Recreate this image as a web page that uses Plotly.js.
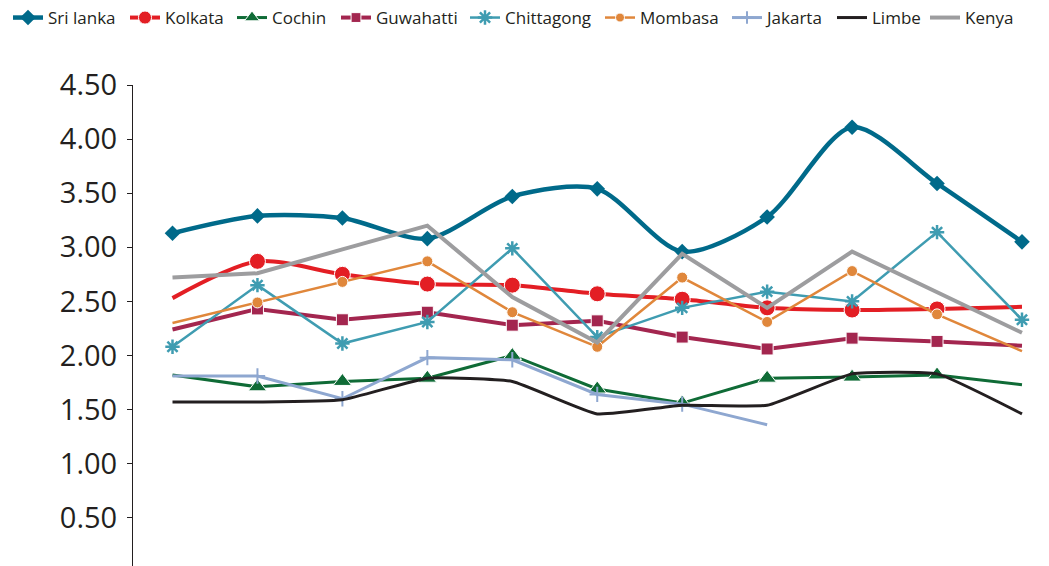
<!DOCTYPE html>
<html>
<head>
<meta charset="utf-8">
<script src="https://cdn.plot.ly/plotly-3.0.1.min.js"></script>
<style>
  html, body { margin: 0; padding: 0; background: #ffffff; overflow: hidden; }
  #chart { width: 1049px; height: 566px; }
</style>
</head>
<body>
<div id="chart"></div>
<script>
// ---- data ----
var periods = [0, 1, 2, 3, 4, 5, 6, 7, 8, 9, 10];

var sriLanka   = [3.13, 3.29, 3.27, 3.08, 3.47, 3.54, 2.96, 3.28, 4.11, 3.59, 3.05];
var kolkata    = [2.53, 2.87, 2.75, 2.66, 2.65, 2.57, 2.52, 2.44, 2.42, 2.43, 2.45];
var cochin     = [1.82, 1.71, 1.76, 1.79, 2.00, 1.69, 1.56, 1.79, 1.80, 1.82, 1.73];
var guwahatti  = [2.24, 2.43, 2.33, 2.40, 2.28, 2.32, 2.17, 2.06, 2.16, 2.13, 2.09];
var chittagong = [2.08, 2.65, 2.11, 2.31, 2.99, 2.17, 2.44, 2.59, 2.50, 3.14, 2.33];
var mombasa    = [2.30, 2.49, 2.68, 2.87, 2.40, 2.08, 2.72, 2.31, 2.78, 2.38, 2.04];
var jakarta    = [1.81, 1.81, 1.60, 1.98, 1.96, 1.64, 1.55, 1.36, null, null, null];
var limbe      = [1.57, 1.57, 1.59, 1.79, 1.76, 1.46, 1.54, 1.54, 1.83, 1.83, 1.46];
var kenya      = [2.72, 2.76, 2.98, 3.20, 2.54, 2.12, 2.94, 2.44, 2.96, 2.58, 2.21];

var yTickVals = [0.5, 1.0, 1.5, 2.0, 2.5, 3.0, 3.5, 4.0, 4.5];
var yTickText = ['0.50', '1.00', '1.50', '2.00', '2.50', '3.00', '3.50', '4.00', '4.50'];

// ---- helpers (style only) ----
function innerSizes(vals, s) {
  // markers on every point except the first and the last drawn point
  var last = -1;
  vals.forEach(function (v, i) { if (v !== null) last = i; });
  return vals.map(function (v, i) { return (i === 0 || i === last) ? 0 : s; });
}

var legendIds = ['legend', 'legend2', 'legend3', 'legend4', 'legend5', 'legend6', 'legend7', 'legend8', 'legend9'];
var legendLeftPx = [16, 133, 240, 344, 473, 608, 735, 840, 933];
var traceCount = 0;

function series(name, y, color, width, shape, smoothing, marker) {
  var t = {
    type: 'scatter', mode: marker ? 'lines+markers' : 'lines',
    name: name, x: periods, y: y,
    line: { color: color, width: width, shape: shape || 'linear', smoothing: smoothing || 1 },
    connectgaps: false,
    legend: legendIds[traceCount++]
  };
  if (marker) { marker.opacity = 1; t.marker = marker; }
  return t;
}

var data = [
  series('Sri lanka', sriLanka, '#006a8a', 4.5, 'spline', 0.8,
         { symbol: 'diamond', size: 12, color: '#006a8a' }),
  series('Kolkata', kolkata, '#e31e24', 4, 'spline', 0.8,
         { symbol: 'circle', size: innerSizes(kolkata, 16), color: '#e31e24' }),
  series('Cochin', cochin, '#0f6b36', 3, 'linear', 0,
         { symbol: 'triangle-up', size: innerSizes(cochin, 16), color: '#0f6b36' }),
  series('Guwahatti', guwahatti, '#a3264f', 4, 'linear', 0,
         { symbol: 'square', size: innerSizes(guwahatti, 12), color: '#a3264f' }),
  series('Chittagong', chittagong, '#3f9cb1', 2.5, 'linear', 0,
         { symbol: 'asterisk-open', size: 12, color: '#3f9cb1', line: { color: '#3f9cb1', width: 2.5 } }),
  series('Mombasa', mombasa, '#e0873b', 2.5, 'linear', 0,
         { symbol: 'circle', size: innerSizes(mombasa, 11), color: '#e0873b' }),
  series('Jakarta', jakarta, '#8ea7d0', 3, 'linear', 0,
         { symbol: 'cross-thin-open', size: innerSizes(jakarta, 11), color: '#8ea7d0', line: { color: '#8ea7d0', width: 2 } }),
  series('Limbe', limbe, '#231f20', 3, 'spline', 0.4, null),
  series('Kenya', kenya, '#9d9d9f', 4, 'linear', 0, null)
];

var layout = {
  width: 1049, height: 566,
  margin: { l: 133, r: 0, t: 85, b: 0, pad: 0 },
  paper_bgcolor: '#ffffff', plot_bgcolor: '#ffffff',
  showlegend: true,
  xaxis: {
    range: [-0.465, 10.318], showgrid: false, zeroline: false,
    showline: false, showticklabels: false, ticks: ''
  },
  yaxis: {
    range: [0.054, 4.5], tickmode: 'array', tickvals: yTickVals, ticktext: yTickText,
    showgrid: false, zeroline: false, showline: true, linecolor: '#231f20', linewidth: 1,
    ticks: 'outside', ticklen: 5, tickcolor: '#231f20', tickwidth: 1,
    ticklabelstandoff: 4,
    tickfont: { family: 'Open Sans, sans-serif', size: 29, color: '#231f20' }
  },
  font: { family: 'Open Sans, sans-serif', color: '#231f20' }
};

legendIds.forEach(function (id, i) {
  layout[id] = {
    orientation: 'h', xref: 'container', yref: 'container',
    x: (legendLeftPx[i] - 8) / 1049, xanchor: 'left', y: 1.0, yanchor: 'top',
    font: { family: 'Open Sans, sans-serif', size: 17, color: '#231f20' },
    itemwidth: 30, bgcolor: 'rgba(0,0,0,0)', borderwidth: 0
  };
});

Plotly.newPlot('chart', data, layout, { displayModeBar: false, staticPlot: true });
</script>
</body>
</html>
